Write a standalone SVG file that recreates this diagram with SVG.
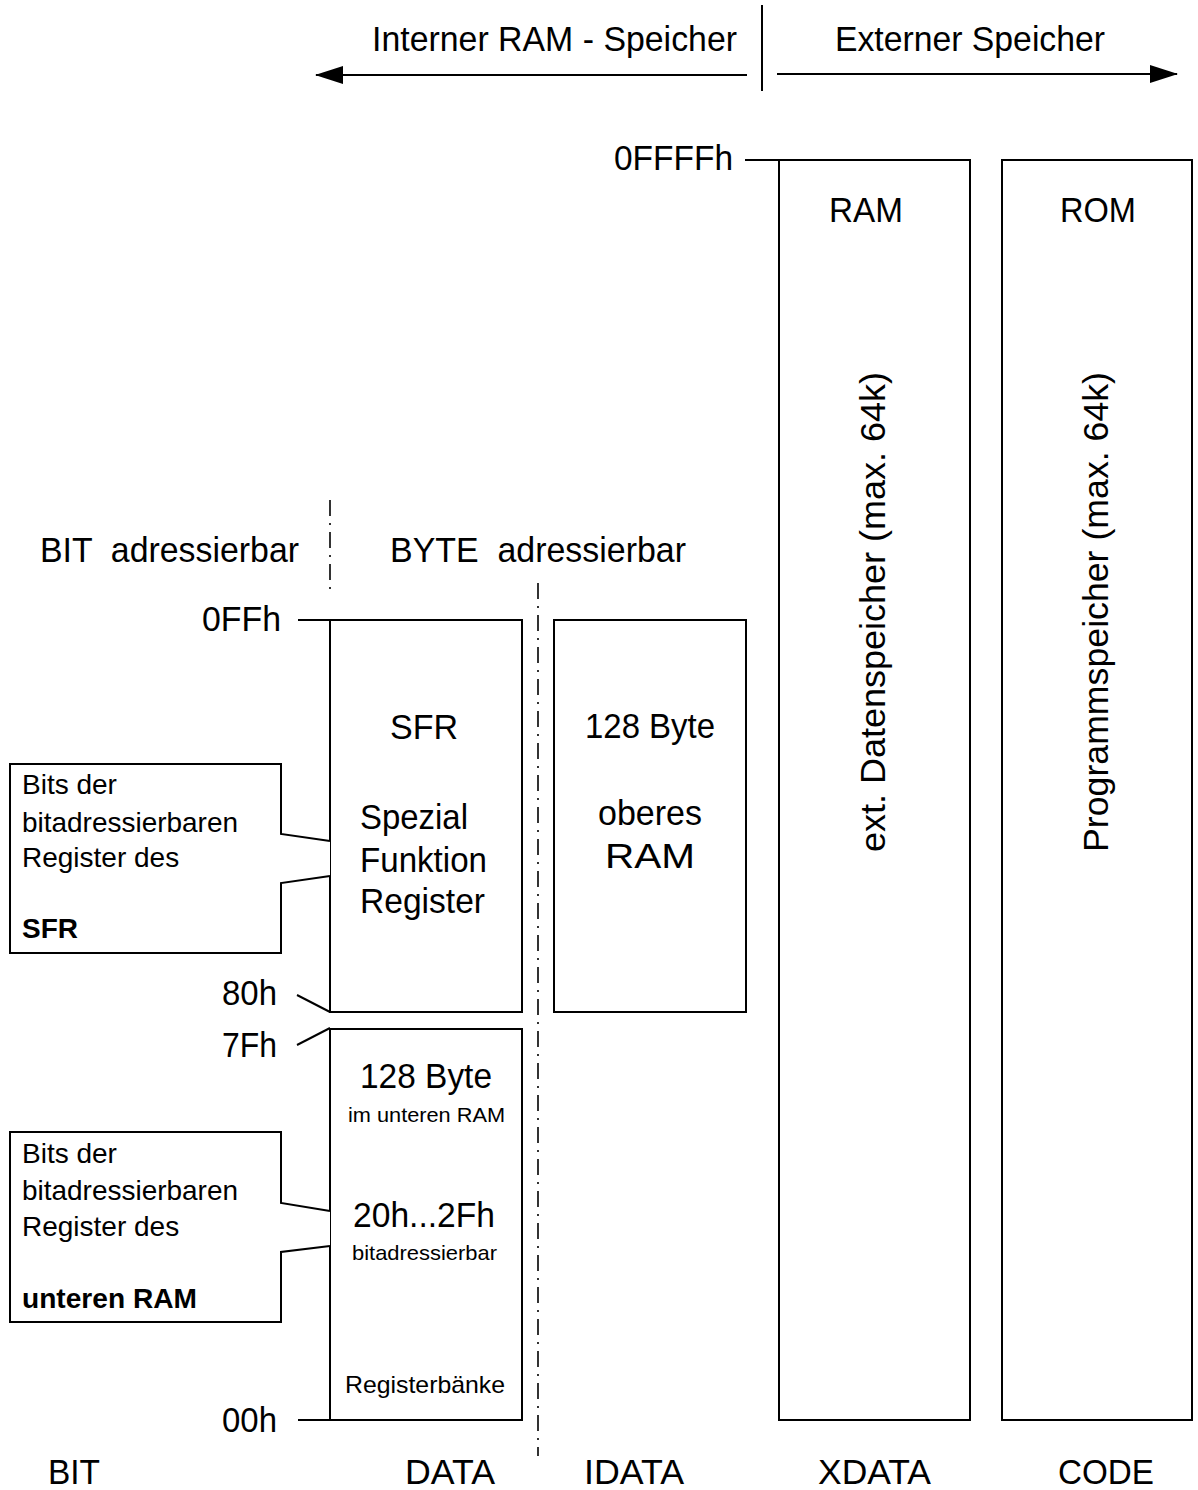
<svg xmlns="http://www.w3.org/2000/svg" width="1198" height="1490" viewBox="0 0 1198 1490">
<style>
  text { font-family: "Liberation Sans", Arial, sans-serif; fill: #000; }
  .lg { font-size: 35px; }
  .md { font-size: 28px; }
  .sm { font-size: 21px; }
  .rs { font-size: 24px; }
  .b { font-weight: bold; }
  .box { fill: #fff; stroke: #000; stroke-width: 2; }
  .ln { fill: none; stroke: #000; stroke-width: 2; }
  .dd { fill: none; stroke: #000; stroke-width: 1.6; stroke-dasharray: 16 7 2 7; }
</style>
<defs>
  <marker id="ah" viewBox="0 0 28 18" refX="27" refY="9" markerWidth="28" markerHeight="18" markerUnits="userSpaceOnUse" orient="auto">
    <path d="M0,0 L28,9 L0,18 Z" fill="#000"/>
  </marker>
</defs>

<g id="header">
  <text class="lg" x="372" y="51" textLength="365" lengthAdjust="spacingAndGlyphs">Interner RAM - Speicher</text>
  <text class="lg" x="835" y="51" textLength="270" lengthAdjust="spacingAndGlyphs">Externer Speicher</text>
  <line class="ln" x1="762" y1="5" x2="762" y2="91"/>
</g>

<g id="connectors">
  <line class="ln" x1="747" y1="75" x2="316" y2="75" marker-end="url(#ah)"/>
  <line class="ln" x1="777" y1="74" x2="1177" y2="74" marker-end="url(#ah)"/>
  <line class="ln" x1="745" y1="160" x2="779" y2="160"/>
  <line class="ln" x1="298" y1="620" x2="330" y2="620"/>
  <line class="ln" x1="297" y1="995" x2="330" y2="1012"/>
  <line class="ln" x1="297" y1="1045" x2="330" y2="1028"/>
  <line class="ln" x1="298" y1="1420" x2="330" y2="1420"/>
  <line class="dd" x1="330" y1="500" x2="330" y2="596"/>
  <line class="dd" x1="538" y1="583" x2="538" y2="1456"/>
</g>

<g id="labels">
  <text class="lg" x="614" y="170" textLength="119" lengthAdjust="spacingAndGlyphs">0FFFFh</text>
  <text class="lg" x="40" y="562" textLength="259" lengthAdjust="spacingAndGlyphs" xml:space="preserve">BIT  adressierbar</text>
  <text class="lg" x="390" y="562" textLength="296" lengthAdjust="spacingAndGlyphs" xml:space="preserve">BYTE  adressierbar</text>
  <text class="lg" x="202" y="631" textLength="79" lengthAdjust="spacingAndGlyphs">0FFh</text>
  <text class="lg" x="222" y="1005" textLength="55" lengthAdjust="spacingAndGlyphs">80h</text>
  <text class="lg" x="222" y="1057" textLength="55" lengthAdjust="spacingAndGlyphs">7Fh</text>
  <text class="lg" x="222" y="1432" textLength="55" lengthAdjust="spacingAndGlyphs">00h</text>
  <text class="lg" x="48" y="1484" textLength="52" lengthAdjust="spacingAndGlyphs">BIT</text>
  <text class="lg" x="405" y="1484" textLength="90" lengthAdjust="spacingAndGlyphs">DATA</text>
  <text class="lg" x="584" y="1484" textLength="100" lengthAdjust="spacingAndGlyphs">IDATA</text>
  <text class="lg" x="818" y="1484" textLength="113" lengthAdjust="spacingAndGlyphs">XDATA</text>
  <text class="lg" x="1058" y="1484" textLength="96" lengthAdjust="spacingAndGlyphs">CODE</text>
</g>

<g id="xdata">
  <rect class="box" x="779" y="160" width="191" height="1260"/>
  <text class="lg" x="829" y="222" textLength="74" lengthAdjust="spacingAndGlyphs">RAM</text>
  <text class="lg" transform="translate(885,612) rotate(-90)" x="-240" y="0" textLength="480" lengthAdjust="spacingAndGlyphs">ext. Datenspeicher (max. 64k)</text>
</g>

<g id="code">
  <rect class="box" x="1002" y="160" width="190" height="1260"/>
  <text class="lg" x="1060" y="222" textLength="76" lengthAdjust="spacingAndGlyphs">ROM</text>
  <text class="lg" transform="translate(1108,612) rotate(-90)" x="-240" y="0" textLength="480" lengthAdjust="spacingAndGlyphs">Programmspeicher (max. 64k)</text>
</g>

<g id="sfr">
  <rect class="box" x="330" y="620" width="192" height="392"/>
  <text class="lg" x="390" y="739" textLength="68" lengthAdjust="spacingAndGlyphs">SFR</text>
  <text class="lg" x="360" y="829" textLength="108" lengthAdjust="spacingAndGlyphs">Spezial</text>
  <text class="lg" x="360" y="872" textLength="127" lengthAdjust="spacingAndGlyphs">Funktion</text>
  <text class="lg" x="360" y="913" textLength="125" lengthAdjust="spacingAndGlyphs">Register</text>
</g>

<g id="idata">
  <rect class="box" x="554" y="620" width="192" height="392"/>
  <text class="lg" x="585" y="738" textLength="130" lengthAdjust="spacingAndGlyphs">128 Byte</text>
  <text class="lg" x="598" y="825" textLength="104" lengthAdjust="spacingAndGlyphs">oberes</text>
  <text class="lg" x="605" y="868" textLength="90" lengthAdjust="spacingAndGlyphs">RAM</text>
</g>

<g id="data">
  <rect class="box" x="330" y="1029" width="192" height="391"/>
  <text class="lg" x="360" y="1088" textLength="132" lengthAdjust="spacingAndGlyphs">128 Byte</text>
  <text class="sm" x="348" y="1122" textLength="157" lengthAdjust="spacingAndGlyphs">im unteren RAM</text>
  <text class="lg" x="353" y="1227" textLength="142" lengthAdjust="spacingAndGlyphs">20h...2Fh</text>
  <text class="sm" x="352" y="1260" textLength="145" lengthAdjust="spacingAndGlyphs">bitadressierbar</text>
  <text class="rs" x="345" y="1393" textLength="160" lengthAdjust="spacingAndGlyphs">Registerbänke</text>
</g>

<g id="callout-sfr">
  <path class="box" d="M330,841 L281,834 L281,764 L10,764 L10,953 L281,953 L281,883 L330,876"/>
  <text class="md" x="22" y="794">Bits der</text>
  <text class="md" x="22" y="832" textLength="216" lengthAdjust="spacingAndGlyphs">bitadressierbaren</text>
  <text class="md" x="22" y="867">Register des</text>
  <text class="md b" x="22" y="938">SFR</text>
</g>

<g id="callout-ram">
  <path class="box" d="M330,1211 L281,1203 L281,1132 L10,1132 L10,1322 L281,1322 L281,1252 L330,1246"/>
  <text class="md" x="22" y="1163">Bits der</text>
  <text class="md" x="22" y="1200" textLength="216" lengthAdjust="spacingAndGlyphs">bitadressierbaren</text>
  <text class="md" x="22" y="1236">Register des</text>
  <text class="md b" x="22" y="1308" textLength="175" lengthAdjust="spacingAndGlyphs">unteren RAM</text>
</g>
</svg>
